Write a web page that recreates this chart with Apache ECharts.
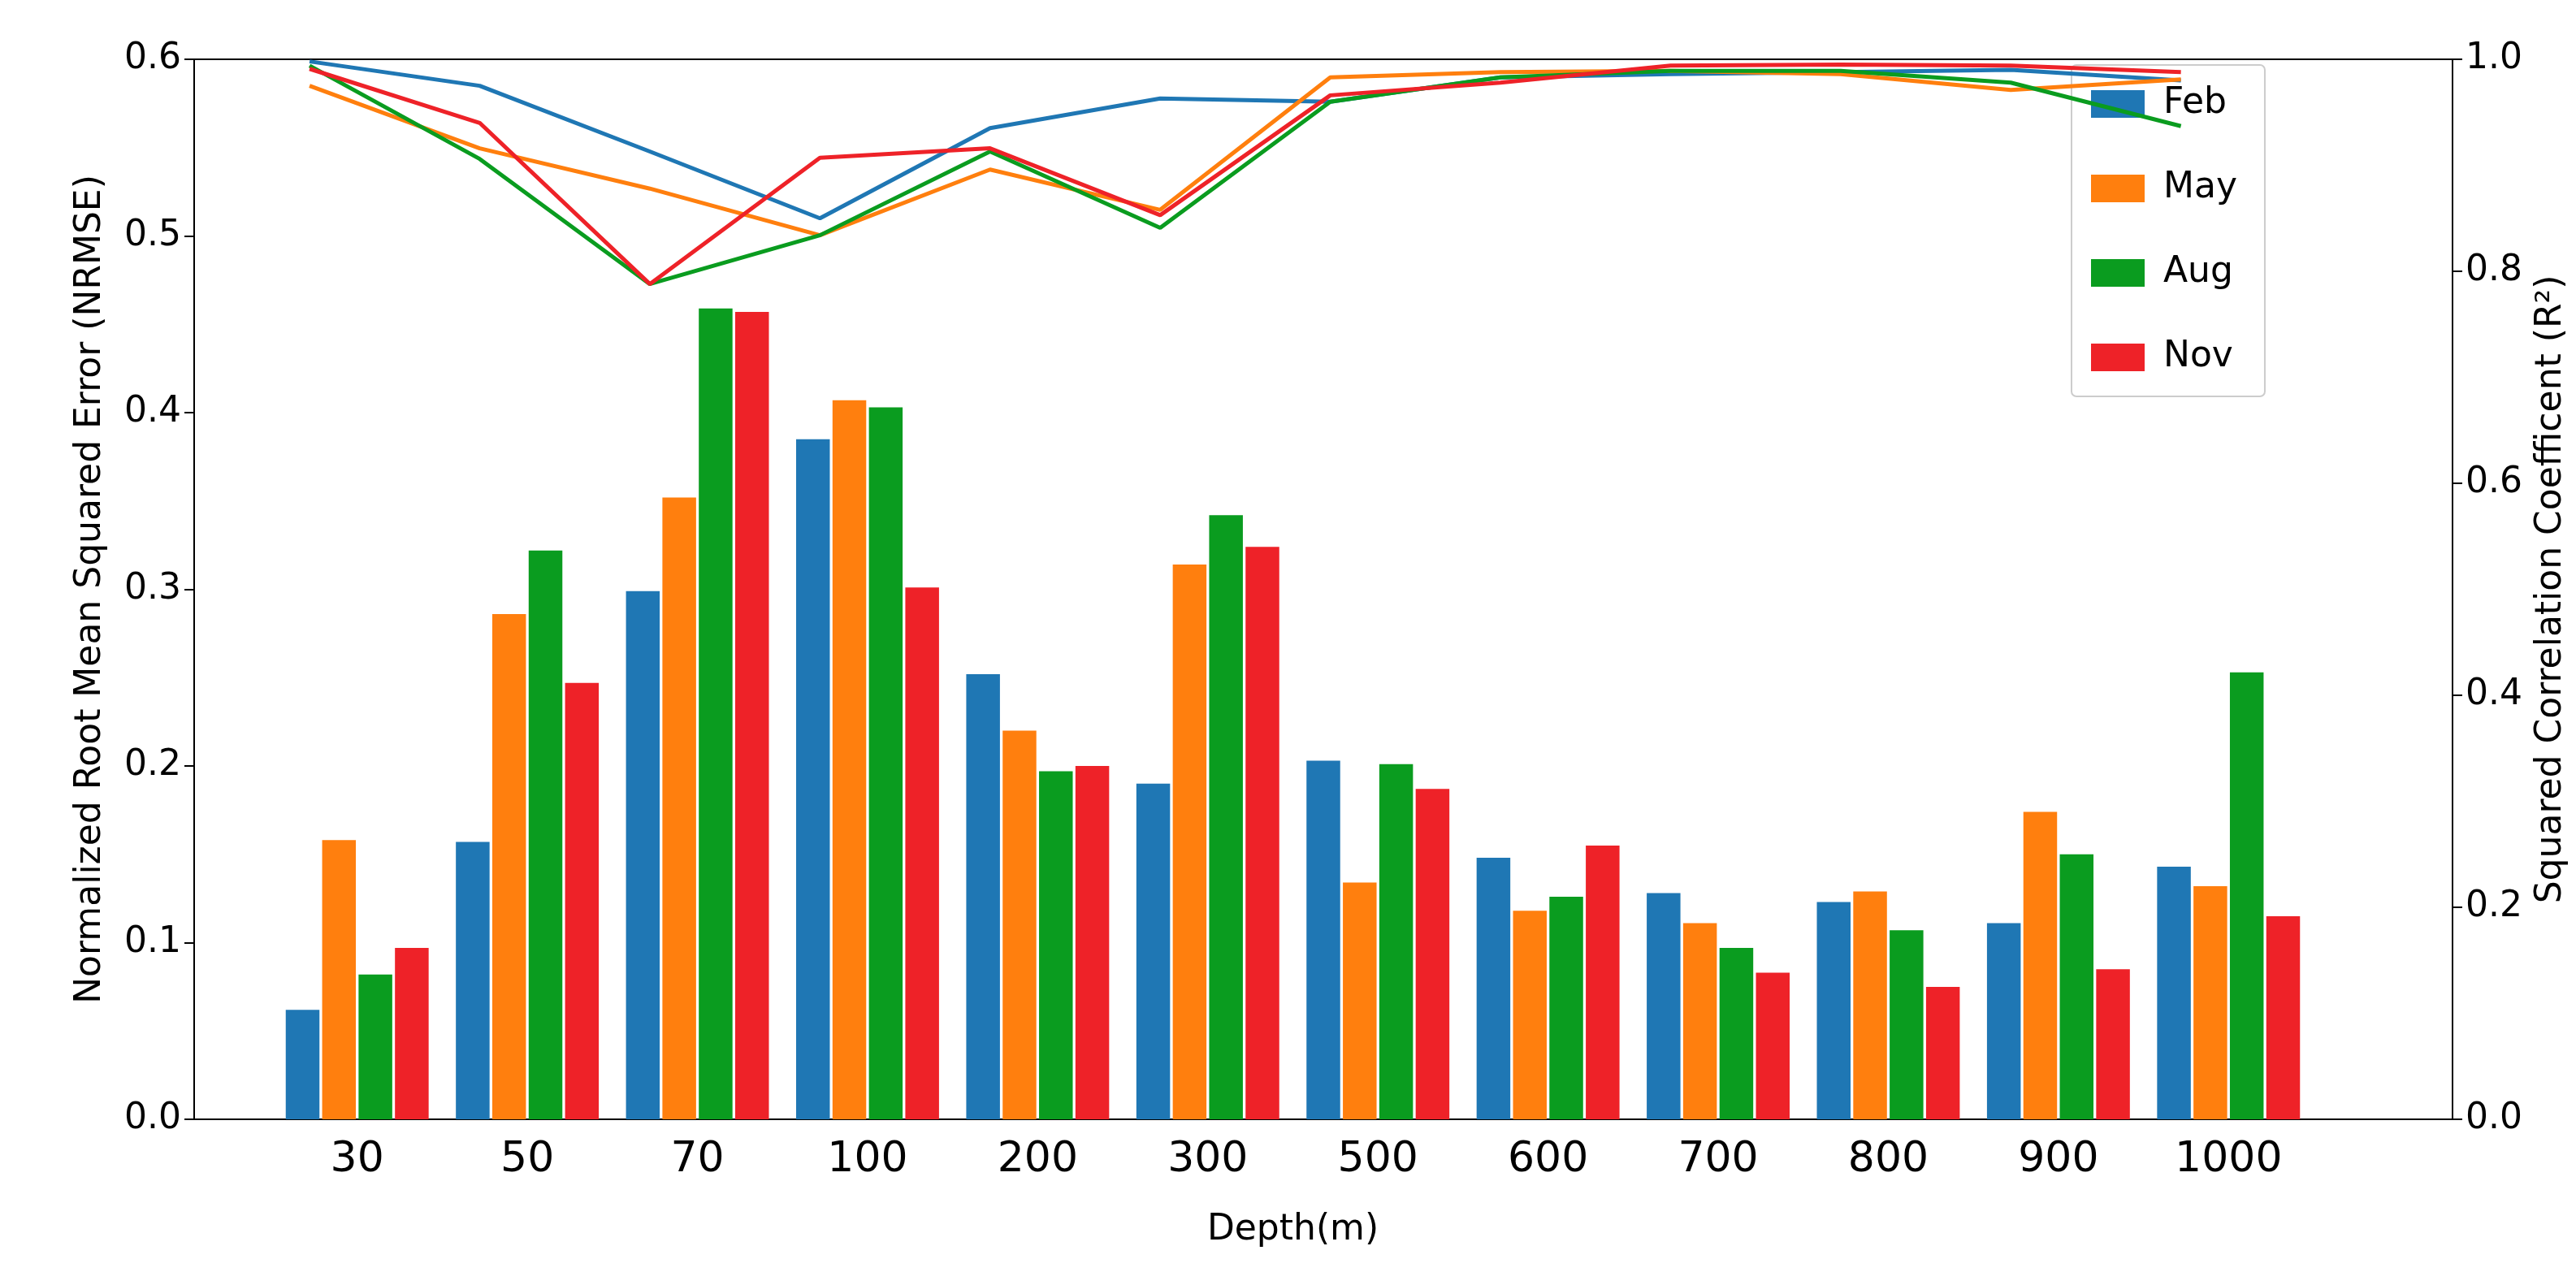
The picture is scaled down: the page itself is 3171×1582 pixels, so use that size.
<!DOCTYPE html>
<html>
<head>
<meta charset="utf-8">
<script src="https://cdn.jsdelivr.net/npm/echarts@6/dist/echarts.min.js"></script>
<style>html,body{margin:0;background:#fff}#main{width:3171px;height:1582px}</style>
</head>
<body>
<div id="main"></div>
<script>
// data
const depths = ['30','50','70','100','200','300','500','600','700','800','900','1000'];
const months = ['Feb','May','Aug','Nov'];
const colors = ['#1f77b4','#ff7f0e','#0a9c1f','#ee2228'];

// NRMSE (left axis)
const nrmseFeb = [0.062,0.157,0.299,0.385,0.252,0.190,0.203,0.148,0.128,0.123,0.111,0.143];
const nrmseMay = [0.158,0.286,0.352,0.407,0.220,0.314,0.134,0.118,0.111,0.129,0.174,0.132];
const nrmseAug = [0.082,0.322,0.459,0.403,0.197,0.342,0.201,0.126,0.097,0.107,0.150,0.253];
const nrmseNov = [0.097,0.247,0.457,0.301,0.200,0.324,0.187,0.155,0.083,0.075,0.085,0.115];

// R2 (right axis)
const r2Feb = [0.998,0.975,0.913,0.850,0.935,0.963,0.960,0.983,0.986,0.988,0.990,0.980];
const r2May = [0.975,0.916,0.878,0.834,0.896,0.858,0.983,0.988,0.989,0.986,0.971,0.981];
const r2Aug = [0.994,0.906,0.788,0.834,0.913,0.841,0.960,0.983,0.989,0.989,0.978,0.937];
const r2Nov = [0.991,0.940,0.788,0.907,0.916,0.853,0.966,0.978,0.994,0.995,0.994,0.988];

const nrmse = [nrmseFeb,nrmseMay,nrmseAug,nrmseNov];
const r2 = [r2Feb,r2May,r2Aug,r2Nov];
const lineShift = -0.28; // lines sit over the first bar of each group

const chart = echarts.init(document.getElementById('main'));
const font = 'DejaVu Sans';
const black = {color:'#000',width:2};
const series = [];
months.forEach((m,k)=>{
  series.push({name:m,type:'bar',xAxisIndex:1,yAxisIndex:2,data:nrmse[k],
    itemStyle:{color:colors[k]},barGap:'8%',barCategoryGap:'16%'});
});
months.forEach((m,k)=>{
  series.push({name:m,type:'line',xAxisIndex:2,yAxisIndex:3,symbol:'none',
    data:r2[k].map((v,i)=>[i+lineShift,v]),lineStyle:{color:colors[k],width:5},itemStyle:{color:colors[k]},z:5});
});

// outer grid: frame and the two visible y axes; inner grid: depth categories
const inner = {left:335,right:323,top:73,bottom:204};
chart.setOption({
  animation:false,
  textStyle:{fontFamily:font},
  color:colors,
  grid:[
    {left:239,right:141,top:73,bottom:204,show:true,borderColor:'#000',borderWidth:2},
    inner
  ],
  legend:{data:months.map(m=>({name:m,icon:'rect'})),orient:'vertical',left:2550,top:80,
    itemWidth:66,itemHeight:34,itemGap:60,padding:[26,34,26,24],
    borderColor:'#ccc',borderWidth:2,borderRadius:6,backgroundColor:'rgba(255,255,255,0.85)',
    textStyle:{fontSize:44,fontFamily:font,color:'#000',padding:[0,0,0,18]}},
  xAxis:[
    {type:'value',gridIndex:0,min:0,max:1,show:false},
    {type:'category',gridIndex:1,data:depths,name:'Depth(m)',nameLocation:'middle',nameGap:115,
     nameTextStyle:{fontSize:44,color:'#000'},
     axisLine:{show:false},axisTick:{alignWithLabel:true,length:12,lineStyle:black},
     axisLabel:{fontSize:52,color:'#000',margin:24}},
    {type:'value',gridIndex:1,min:-0.5,max:11.5,show:false}
  ],
  yAxis:[
    {type:'value',gridIndex:0,min:0,max:0.6,interval:0.1,name:'Normalized Root Mean Squared Error (NRMSE)',
     nameLocation:'middle',nameGap:105,nameTextStyle:{fontSize:44,color:'#000'},
     axisLine:{show:true,onZero:false,lineStyle:black},axisTick:{show:true,length:12,lineStyle:black},
     splitLine:{show:false},axisLabel:{fontSize:44,color:'#000',margin:16,formatter:v=>v.toFixed(1)}},
    {type:'value',gridIndex:0,min:0,max:1,interval:0.2,name:'Squared Correlation Coefficent (R²)',
     nameLocation:'middle',nameGap:100,nameTextStyle:{fontSize:44,color:'#000'},
     axisLine:{show:true,onZero:false,lineStyle:black},axisTick:{show:true,length:12,lineStyle:black},
     splitLine:{show:false},axisLabel:{fontSize:44,color:'#000',margin:16,formatter:v=>v.toFixed(1)}},
    {type:'value',gridIndex:1,min:0,max:0.6,show:false},
    {type:'value',gridIndex:1,min:0,max:1,show:false}
  ],
  series:series
});
</script>
</body>
</html>
